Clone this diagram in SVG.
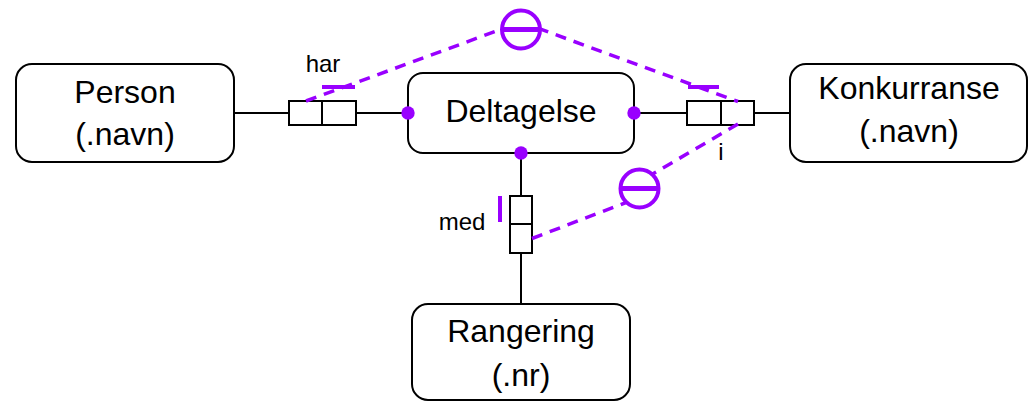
<svg xmlns="http://www.w3.org/2000/svg" width="1031" height="402" viewBox="0 0 1031 402">
<style>
.ent{fill:#fff;stroke:#000;stroke-width:2}
.big{font-family:"Liberation Sans",Arial,sans-serif;font-size:32px;fill:#000;text-anchor:middle}
.lbl{font-family:"Liberation Sans",Arial,sans-serif;font-size:24px;fill:#000;text-anchor:middle}
.ln{stroke:#000;stroke-width:2;fill:none}
.role{fill:#fff;stroke:#000;stroke-width:2}
.dash{stroke:#9900ff;stroke-width:3.5;fill:none;stroke-dasharray:11 8}
.bar{stroke:#9900ff;stroke-width:4;fill:none}
.dot{fill:#9900ff}
.xc{fill:#fff;stroke:#9900ff;stroke-width:4}
.xb{stroke:#9900ff;stroke-width:5}
</style>
<g id="connectors">
<line class="ln" x1="234" y1="113" x2="289" y2="113"/>
<line class="ln" x1="356" y1="113" x2="408" y2="113"/>
<line class="ln" x1="634" y1="113" x2="687" y2="113"/>
<line class="ln" x1="753" y1="113" x2="790" y2="113"/>
<line class="ln" x1="521" y1="153" x2="521" y2="196"/>
<line class="ln" x1="521" y1="253" x2="521" y2="304"/>
</g>
<g id="role-har">
<rect class="role" x="289" y="101" width="33" height="24"/>
<rect class="role" x="322" y="101" width="34" height="24"/>
<line class="bar" x1="322" y1="87" x2="355" y2="87"/>
<text class="lbl" x="323" y="72">har</text>
</g>
<g id="role-i">
<rect class="role" x="687" y="101" width="34" height="24"/>
<rect class="role" x="721" y="101" width="33" height="24"/>
<line class="bar" x1="688" y1="87" x2="719" y2="87"/>
<text class="lbl" x="721" y="160">i</text>
</g>
<g id="role-med">
<rect class="role" x="510" y="196" width="22" height="28"/>
<rect class="role" x="510" y="224" width="22" height="29"/>
<line class="bar" x1="500" y1="196" x2="500" y2="222"/>
<text class="lbl" x="462" y="230">med</text>
</g>
<g id="constraints">
<polyline class="dash" points="306,101 521,22 738,101.5"/>
<line class="dash" x1="738" y1="124" x2="645" y2="178.5"/>
<line class="dash" x1="532" y1="238.5" x2="630" y2="201"/>
<g id="excl1">
<circle class="xc" cx="521" cy="29.5" r="19"/>
<line class="xb" x1="502" y1="29.5" x2="540" y2="29.5"/>
</g>
<g id="excl2">
<circle class="xc" cx="639.5" cy="188.5" r="19"/>
<line class="xb" x1="620.5" y1="188.5" x2="658.5" y2="188.5"/>
</g>
</g>
<g id="person">
<rect class="ent" x="16" y="64" width="218" height="98" rx="16"/>
<text class="big" x="125" y="103">Person</text>
<text class="big" x="125" y="145">(.navn)</text>
</g>
<g id="deltagelse">
<rect class="ent" x="408" y="73" width="226" height="80" rx="15"/>
<text class="big" x="521" y="122">Deltagelse</text>
<circle class="dot" cx="408" cy="113" r="6.7"/>
<circle class="dot" cx="634" cy="113" r="6.7"/>
<circle class="dot" cx="521" cy="153" r="6.7"/>
</g>
<g id="konkurranse">
<rect class="ent" x="790" y="64" width="237" height="98" rx="16"/>
<text class="big" x="909" y="99">Konkurranse</text>
<text class="big" x="909" y="142">(.navn)</text>
</g>
<g id="rangering">
<rect class="ent" x="412" y="304" width="218" height="96" rx="16"/>
<text class="big" x="521" y="342">Rangering</text>
<text class="big" x="521" y="386">(.nr)</text>
</g>
</svg>
